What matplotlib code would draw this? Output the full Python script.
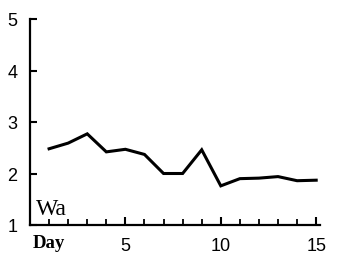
import matplotlib
matplotlib.use("Agg")
import matplotlib.pyplot as plt

days = [1, 2, 3, 4, 5, 6, 7, 8, 9, 10, 11, 12, 13, 14, 15]
values = [2.48, 2.59, 2.77, 2.42, 2.47, 2.37, 2.0, 2.0, 2.46, 1.76, 1.9, 1.91, 1.94, 1.86, 1.87]
yticks = [1, 2, 3, 4, 5]
xtick_labels = [5, 10, 15]
series_label = "Wa"
x_label = "Day"

fig = plt.figure(figsize=(3.37, 2.55), dpi=100)
ax = fig.add_axes([30/337, 29/255, 290/337, 206/255])
ax.plot(days, values, color="black", lw=2.2, solid_joinstyle="miter")
ax.set_xlim(0, 15.2)
ax.set_ylim(1, 5)
for s in ["top", "right"]:
    ax.spines[s].set_visible(False)
for s in ["left", "bottom"]:
    ax.spines[s].set_linewidth(1.6)
ax.set_yticks(yticks)
ax.set_yticklabels([str(v) for v in yticks], fontsize=13, family="Liberation Sans")
ax.tick_params(axis="y", direction="in", length=5, width=1.5, pad=9)
ax.set_xticks(days, minor=True)
ax.set_xticks(xtick_labels)
ax.set_xticklabels([str(v) for v in xtick_labels], fontsize=13, family="Liberation Sans")
ax.tick_params(axis="x", which="major", direction="in", length=6, width=1.5, pad=8.5)
ax.tick_params(axis="x", which="minor", direction="in", length=4, width=1.3)
ax.text(0.02, 0.055, series_label, transform=ax.transAxes, fontsize=17,
        family="Liberation Serif", va="baseline", ha="left")
ax.text(0.008, -0.045, x_label, transform=ax.transAxes, fontsize=13.5, fontweight="bold",
        family="Liberation Serif", va="top", ha="left")
fig.savefig("out.png", dpi=100)
